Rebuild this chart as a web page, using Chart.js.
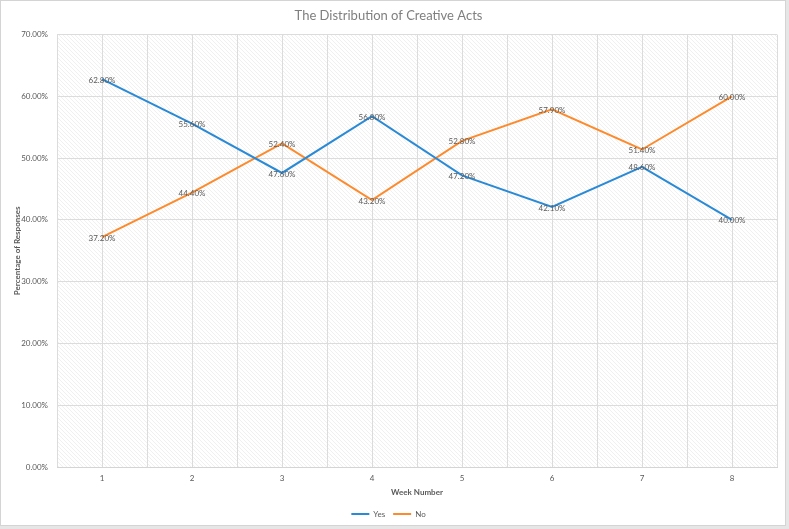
<!DOCTYPE html>
<html lang="en">
<head>
  <meta charset="UTF-8" />
  <title>The Distribution of Creative Acts</title>
  <style>
    html, body {
      margin: 0;
      padding: 0;
      background: #e6e6e6;
    }
    .frame {
      position: absolute;
      left: 0;
      top: 0;
      width: 784px;
      height: 524px;
      background: #ffffff;
      border: 1px solid #d4d4d4;
    }
    .chart-box {
      position: absolute;
      left: 0;
      top: 0;
      width: 789px;
      height: 529px;
    }
  </style>
</head>
<body>

<div class="frame"></div>
<div class="chart-box">
  <canvas id="grafico" width="789" height="529"></canvas>
</div>

<script src="https://cdn.jsdelivr.net/npm/chart.js"></script>

<script>
  // dados
  const semanas = [1, 2, 3, 4, 5, 6, 7, 8];
  const sim = [62.8, 55.6, 47.6, 56.8, 47.2, 42.1, 48.6, 40.0];
  const nao = [37.2, 44.4, 52.4, 43.2, 52.8, 57.9, 51.4, 60.0];
  const series = ['Yes', 'No'];
  const cores = ['#2a8ad6', '#fd8a2c'];

  const fonte = "Lato, 'Open Sans', sans-serif";

  // fundo hachurado da área do gráfico
  function criarPadrao(ctx) {
    const c = document.createElement('canvas');
    c.width = 4; c.height = 4;
    const p = c.getContext('2d');
    p.strokeStyle = 'rgba(0,0,0,0.06)';
    p.lineWidth = 1;
    p.beginPath();
    p.moveTo(-1, -1); p.lineTo(5, 5);
    p.moveTo(-1, 3); p.lineTo(1, 5);
    p.moveTo(3, -1); p.lineTo(5, 1);
    p.stroke();
    return ctx.createPattern(c, 'repeat');
  }

  const fundoPlugin = {
    id: 'fundo',
    beforeDraw(chart) {
      const { ctx, chartArea: a } = chart;
      ctx.save();
      ctx.fillStyle = criarPadrao(ctx);
      ctx.fillRect(a.left, a.top, a.right - a.left, a.bottom - a.top);
      ctx.restore();
    }
  };

  // rótulos de dados centrados nos pontos
  const rotulosPlugin = {
    id: 'rotulos',
    afterDatasetsDraw(chart) {
      const ctx = chart.ctx;
      ctx.save();
      ctx.font = '8px ' + fonte;
      ctx.fillStyle = '#595959';
      ctx.textAlign = 'center';
      ctx.textBaseline = 'middle';
      chart.data.datasets.forEach((ds, i) => {
        chart.getDatasetMeta(i).data.forEach((pt, j) => {
          ctx.fillText(ds.data[j].y.toFixed(2) + '%', pt.x, pt.y + 1);
        });
      });
      ctx.restore();
    }
  };

  const toPontos = arr => arr.map((v, i) => ({ x: semanas[i], y: v }));

  new Chart(document.getElementById('grafico'), {
    type: 'line',
    data: {
      datasets: [
        { label: series[0], data: toPontos(sim), borderColor: cores[0], backgroundColor: cores[0], borderWidth: 2, pointRadius: 0, tension: 0 },
        { label: series[1], data: toPontos(nao), borderColor: cores[1], backgroundColor: cores[1], borderWidth: 2, pointRadius: 0, tension: 0 }
      ]
    },
    options: {
      responsive: false,
      animation: false,
      layout: { padding: { left: 0, right: 12, top: 0, bottom: 1 } },
      plugins: {
        title: {
          display: true,
          text: 'The Distribution of Creative Acts',
          color: '#7f7f7f',
          font: { family: fonte, size: 13, weight: 'normal' },
          padding: { top: 8, bottom: 11 }
        },
        legend: {
          position: 'bottom',
          labels: {
            usePointStyle: true,
            pointStyle: 'line',
            pointStyleWidth: 18,
            color: '#595959',
            font: { family: fonte, size: 8 },
            boxHeight: 8,
            padding: 8
          }
        },
        tooltip: { enabled: false }
      },
      scales: {
        x: {
          type: 'linear',
          min: 0.5,
          max: 8.5,
          afterFit: s => { s.height = 35; },
          ticks: {
            stepSize: 0.5,
            maxTicksLimit: 30,
            autoSkip: false,
            maxRotation: 0,
            color: '#595959',
            font: { family: fonte, size: 8 },
            padding: 7,
            callback: v => Number.isInteger(v) ? v : ''
          },
          grid: { color: '#dcdcdc', drawTicks: false },
          border: { color: '#d4d4d4' },
          title: {
            display: true,
            text: 'Week Number',
            color: '#595959',
            font: { family: fonte, size: 8, weight: 'bold' },
            padding: { top: 4, bottom: 5 }
          }
        },
        y: {
          min: 0,
          max: 70,
          afterFit: s => { s.width = 57; },
          ticks: {
            stepSize: 10,
            color: '#595959',
            font: { family: fonte, size: 8 },
            padding: 9,
            callback: v => v.toFixed(2) + '%'
          },
          grid: { color: '#dcdcdc', drawTicks: false },
          border: { display: false },
          title: {
            display: true,
            text: 'Percentage of Responses',
            color: '#595959',
            font: { family: fonte, size: 8, weight: 'bold' },
            padding: { top: 13, bottom: 0 }
          }
        }
      }
    },
    plugins: [fundoPlugin, rotulosPlugin]
  });
</script>

</body>
</html>
